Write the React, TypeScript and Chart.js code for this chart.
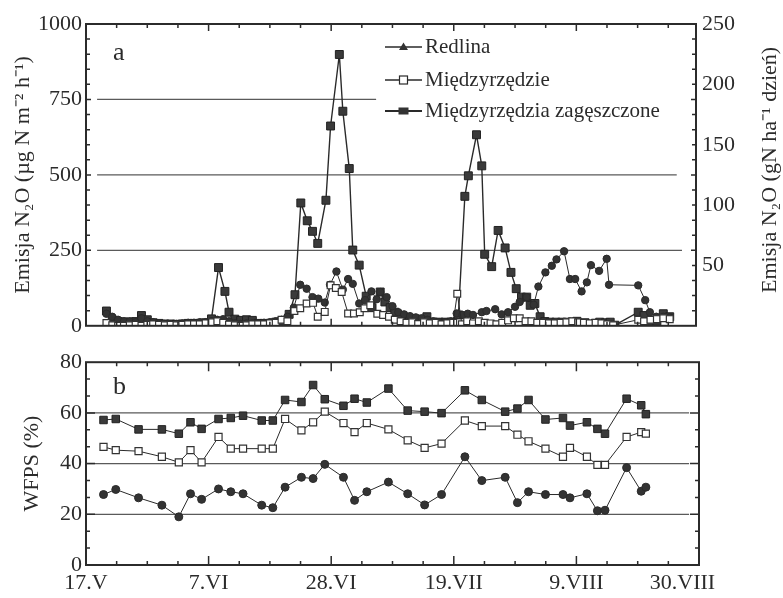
import { useEffect, useRef } from 'react';
import { Chart, registerables } from 'chart.js';

Chart.register(...registerables);

const FONT = "'Liberation Serif', 'Times New Roman', serif";
const INK = '#2b2b2b';
const GRID = '#5a5a5a';

// ---------- shared x axis (days after 17.V) ----------
const xTickDays = [0, 21, 42, 63, 84, 105];
const xTickLabels = ['17.V', '7.VI', '28.VI', '19.VII', '9.VIII', '30.VIII'];

// ---------- panel a : N2O emission ----------
const seriesNames = ['Redlina', 'Międzyrzędzie', 'Międzyrzędzia zagęszczone'];

const redDaysA = [3.5, 4.5, 5.5, 6.5, 7.5, 8.5, 9.5, 10.5, 11.5, 12.5, 13.5, 14.5, 15.5, 16.5, 17.5, 18.5, 19.5, 20.5, 21.5, 22.5, 23.5, 24.5, 25.5, 26.5, 27.5, 28.5, 29.5, 30.5, 31.5, 32.5, 33.5, 34.5,
  35.6, 36.7, 37.8, 38.8, 39.8, 40.9, 41.8, 42.9, 44.0, 44.9, 45.7, 46.8, 47.8, 48.9, 49.8, 50.4, 51.5,
  52.5, 53.5, 54.5, 55.5, 56.5, 57.5, 58.5, 59.5, 60.5, 61.5, 62.5, 63.5,
  64.5, 65.4, 66.3, 67.8, 68.6, 70.1, 71.2, 72.3, 73.5, 74.3, 75.5, 76.7, 77.5, 78.7, 79.8, 80.6, 81.9, 82.9, 83.8, 84.9, 85.8, 86.5, 87.9, 89.2, 89.6,
  94.6, 95.8, 96.6, 97.7, 98.9, 100.0];
const redValsA = [40, 30, 20, 15, 15, 12, 25, 15, 12, 8, 6, 4, 6, 8, 10, 10, 12, 12, 15, 20, 22, 15, 8, 6, 8, 8, 8, 10, 12, 15, 20, 30,
  60, 136, 123, 95, 90, 77, 136, 180, 120, 155, 139, 74, 85, 114, 88, 112, 95,
  65, 45, 38, 32, 28, 25, 20, 15, 12, 12, 15, 41,
  36, 40, 36, 45, 49, 55, 38, 45, 63, 79, 95, 70, 130, 177, 199, 220, 247, 155, 155, 114, 144, 201, 182, 222, 136,
  134, 85, 45, 30, 30, 28];

const midDaysA = [3.5, 4.5, 5.5, 6.5, 7.5, 8.5, 9.5, 10.5, 11.5, 12.5, 13.5, 14.5, 15.5, 16.5, 17.5, 18.5, 19.5, 20.5, 21.5, 22.5, 23.5, 24.5, 25.5, 26.5, 27.5, 28.5, 29.5, 30.5, 31.5, 32.5, 33.5, 34.5,
  35.7, 36.7, 37.8, 38.9, 39.7, 40.9, 41.9, 42.8, 43.8, 44.9, 45.9, 46.9, 47.7, 48.7, 49.9, 50.9, 51.9, 52.9, 53.9, 54.9,
  55.9, 56.9, 57.9, 58.9, 59.9, 60.9, 61.9, 62.9, 63.6, 64.4, 65.3, 66.3, 67.3, 68.3, 69.3, 70.3, 71.3, 72.3, 73.3, 74.3,
  75.3, 76.3, 77.3, 78.3, 79.3, 80.3, 81.3, 82.3, 83.3, 84.3, 85.3, 86.3, 87.3, 88.3, 89.3, 90.3,
  94.6, 95.6, 96.7, 97.8, 98.9, 100.0];
const midValsA = [9, 2, 0, 0, 2, 3, 0, 3, 5, 3, 2, 3, 2, 3, 5, 5, 5, 8, 12, 15, 10, 4, 2, 0, 2, 5, 5, 5, 8, 10, 20, 15,
  49, 58, 74, 76, 30, 46, 134, 125, 112, 41, 41, 45, 58, 68, 40, 36, 30, 20, 15, 10,
  12, 6, 12, 8, 10, 5, 8, 10, 106, 5, 15, 8, 15, 10, 8, 5, 10, 18, 25, 25,
  15, 15, 10, 10, 8, 8, 10, 12, 15, 12, 10, 8, 10, 8, 5, 2,
  20, 15, 20, 22, 25, 22];

const denseDaysA = [3.5, 4.5, 5.5, 6.5, 7.5, 8.5, 9.5, 10.5, 11.5, 12.5, 13.5, 14.5, 15.5, 16.5, 17.5, 18.5, 19.5, 20.5, 21.5,
  22.7, 23.8, 24.5, 25.5, 26.5, 27.5, 28.5, 29.5, 30.5, 31.5, 32.5, 33.5,
  34.8, 35.8, 36.8, 37.9, 38.8, 39.7, 41.1, 41.9, 43.4, 44.0, 45.1, 45.7, 46.8, 48.0, 49.0,
  50.4, 51.2, 52.1, 52.9, 54.1, 55.4, 56.5, 57.5, 58.4, 59.5, 60.5, 61.5, 62.5, 63.8,
  64.9, 65.5, 66.9, 67.8, 68.3, 69.5, 70.6, 71.8, 72.8, 73.7, 74.6, 75.5, 76.1, 76.9, 77.8,
  78.6, 79.5, 80.5, 81.5, 82.4, 83.3, 84.1, 85.5, 86.3, 87.2, 88.0, 89.0, 89.8, 90.6,
  94.6, 95.6, 96.7, 97.8, 98.9, 100.0];
const denseValsA = [49, 20, 14, 13, 12, 14, 34, 20, 10, 8, 6, 6, 5, 6, 8, 8, 8, 10, 23,
  193, 114, 45, 22, 18, 20, 18, 8, 8, 8, 12, 15,
  38, 103, 407, 348, 313, 273, 416, 662, 899, 711, 521, 251, 201, 98, 60,
  112, 79, 60, 45, 34, 24, 22, 20, 30, 12, 12, 12, 12, 36,
  429, 497, 633, 530, 237, 196, 316, 258, 177, 123, 95, 95, 68, 74, 30,
  14, 12, 12, 12, 12, 12, 15, 10, 5, 8, 12, 10, 12, 2,
  45, 34, 15, 15, 40, 30];

const gridValsA = [250, 500, 750];
const gridFromA = [1.9, 1.9, 1.9];
const gridToA = [102.1, 101.2, 49.7];

// ---------- panel b : WFPS ----------
const daysB = [3.0, 5.1, 9.0, 13.0, 15.9, 17.9, 19.8, 22.7, 24.8, 26.9, 30.1, 32.0, 34.1, 36.9, 38.9, 40.9, 44.1, 46.0, 48.1, 51.8,
  55.1, 58.0, 60.9, 64.9, 67.8, 71.8, 73.9, 75.8, 78.7, 81.7, 82.9, 85.8, 87.6, 88.9, 92.6, 95.1, 95.9];
const denseB = [57.2, 57.6, 53.5, 53.5, 51.8, 56.3, 53.7, 57.6, 58.0, 58.9, 57.0, 57.0, 65.1, 64.3, 71.0, 65.4, 62.8, 65.6, 64.1, 69.6,
  60.9, 60.5, 59.9, 68.9, 65.1, 60.5, 61.7, 65.1, 57.4, 58.0, 55.0, 56.3, 53.7, 51.8, 65.6, 63.0, 59.5];
const midB = [46.6, 45.3, 44.9, 42.7, 40.5, 45.3, 40.5, 50.5, 45.9, 45.9, 45.9, 45.9, 57.6, 53.1, 56.3, 60.5, 56.0, 52.4, 56.0, 53.5,
  49.2, 46.2, 47.9, 57.0, 54.8, 54.8, 51.4, 48.8, 45.9, 42.7, 46.2, 42.7, 39.5, 39.5, 50.5, 52.4, 51.8];
const redB = [27.8, 29.8, 26.5, 23.6, 19.0, 28.1, 25.9, 30.0, 28.9, 28.1, 23.6, 22.6, 30.7, 34.6, 34.1, 39.7, 34.6, 25.5, 28.9, 32.7,
  28.1, 23.7, 27.8, 42.7, 33.3, 34.6, 24.6, 28.9, 27.8, 27.8, 26.5, 28.1, 21.4, 21.6, 38.4, 29.1, 30.7];

const gridValsB = [20, 40, 60];
const gridFromB = [0, 0, 0];
const gridToB = [103.3, 103.3, 103.3];

const zip = (xs: number[], ys: number[]) => xs.map((x, i) => ({ x, y: ys[i] }));

function gridDatasets(vals: number[], from: number[], to: number[]) {
  return vals.map((v, i) => ({
    label: 'grid' + v,
    data: [{ x: from[i], y: v }, { x: to[i], y: v }],
    borderColor: GRID,
    borderWidth: 1.3,
    pointRadius: 0,
    order: 10,
  }));
}

function seriesStyles(big: boolean) {
  return [
    { pointStyle: 'circle', pointRadius: big ? 3.7 : 4, backgroundColor: '#333', borderColor: '#2a2a2a', pointBorderWidth: 1, borderWidth: 1, order: 2 },
    { pointStyle: 'rect', pointRadius: big ? 4.8 : 5, backgroundColor: '#ffffff', borderColor: '#333', pointBorderWidth: 1.2, borderWidth: 1, order: 1 },
    { pointStyle: 'rect', pointRadius: big ? 5.6 : 5.3, backgroundColor: '#3a3a3a', borderColor: '#222', pointBorderWidth: 1, borderWidth: big ? 1.4 : 1, order: 3 },
  ];
}

function frameTicks(cfg: { xStep: number; xMajor: number; yStep: number; yMajor: number; major: number; minor: number; yMajorLen: number; yMinorLen: number }) {
  return {
    id: 'frameTicks',
    afterDatasetsDraw(chart: any) {
      const { ctx, chartArea } = chart;
      const { left, right, top, bottom } = chartArea;
      const xs = chart.scales.x;
      const ys = chart.scales.y;
      ctx.save();
      ctx.strokeStyle = INK;
      ctx.lineWidth = 1.5;
      ctx.beginPath();
      for (let i = 0; i * cfg.xStep <= xs.max + 1e-6; i++) {
        const v = i * cfg.xStep;
        const px = xs.getPixelForValue(v);
        if (px <= left + 1 || px >= right - 1) continue;
        const isMaj = Math.abs(v / cfg.xMajor - Math.round(v / cfg.xMajor)) < 1e-6;
        const len = isMaj ? cfg.major : cfg.minor;
        ctx.moveTo(px, bottom);
        ctx.lineTo(px, bottom - len);
        ctx.moveTo(px, top);
        ctx.lineTo(px, top + len);
      }
      for (let i = 0; i * cfg.yStep <= ys.max + 1e-6; i++) {
        const v = i * cfg.yStep;
        const py = ys.getPixelForValue(v);
        if (py >= bottom - 1 || py <= top + 1) continue;
        const isMaj = Math.abs(v / cfg.yMajor - Math.round(v / cfg.yMajor)) < 1e-6;
        const len = isMaj ? cfg.yMajorLen : cfg.yMinorLen;
        ctx.moveTo(left, py);
        ctx.lineTo(left + len, py);
        ctx.moveTo(right, py);
        ctx.lineTo(right - len, py);
      }
      ctx.stroke();
      ctx.lineWidth = 2;
      ctx.strokeRect(left, top, right - left, bottom - top);
      ctx.restore();
    },
  };
}

function panelLetter(letter: string, x: number, y: number) {
  return {
    id: 'panelLetter',
    afterDraw(chart: any) {
      const ctx = chart.ctx;
      ctx.save();
      ctx.fillStyle = INK;
      ctx.font = `26px ${FONT}`;
      ctx.textAlign = 'left';
      ctx.textBaseline = 'middle';
      ctx.fillText(letter, x, y);
      ctx.restore();
    },
  };
}

const rightTitlePlugin = {
  id: 'rightTitle',
  afterDraw(chart: any) {
    const { ctx, chartArea } = chart;
    ctx.save();
    ctx.fillStyle = INK;
    ctx.font = `22px ${FONT}`;
    ctx.translate(770, (chartArea.top + chartArea.bottom) / 2 - 5);
    ctx.rotate(-Math.PI / 2);
    ctx.textAlign = 'center';
    ctx.textBaseline = 'middle';
    ctx.fillText('Emisja N₂O (gN ha⁻¹ dzień)', 0, 0);
    ctx.restore();
  },
};

const legendPlugin = {
  id: 'customLegend',
  afterDraw(chart: any) {
    const ctx = chart.ctx;
    const rows = [47, 80, 111];
    const x0 = 385;
    const x1 = 422;
    const cx = (x0 + x1) / 2;
    ctx.save();
    rows.forEach((ry, i) => {
      ctx.strokeStyle = '#2a2a2a';
      ctx.lineWidth = i === 2 ? 2.2 : 1.6;
      ctx.beginPath();
      ctx.moveTo(x0, ry);
      ctx.lineTo(x1, ry);
      ctx.stroke();
      ctx.lineWidth = 1.2;
      if (i === 0) {
        ctx.fillStyle = '#333';
        ctx.beginPath();
        ctx.moveTo(cx, ry - 4.5);
        ctx.lineTo(cx + 4.5, ry + 3);
        ctx.lineTo(cx - 4.5, ry + 3);
        ctx.closePath();
        ctx.fill();
      } else if (i === 1) {
        ctx.fillStyle = '#fff';
        ctx.fillRect(cx - 4, ry - 4, 8, 8);
        ctx.strokeRect(cx - 4, ry - 4, 8, 8);
      } else {
        ctx.fillStyle = '#333';
        ctx.fillRect(cx - 5, ry - 3.5, 10, 7);
      }
      ctx.fillStyle = INK;
      ctx.font = `21px ${FONT}`;
      ctx.textAlign = 'left';
      ctx.textBaseline = 'middle';
      ctx.fillText(seriesNames[i], x1 + 3, ry);
    });
    ctx.restore();
  },
};

function TopChart() {
  const ref = useRef<HTMLCanvasElement>(null);
  useEffect(() => {
    const st = seriesStyles(true);
    const series = [zip(redDaysA, redValsA), zip(midDaysA, midValsA), zip(denseDaysA, denseValsA)];
    const chart = new Chart(ref.current as HTMLCanvasElement, {
      type: 'line',
      data: {
        datasets: [
          ...series.map((d, i) => ({ label: seriesNames[i], data: d, ...st[i], pointBackgroundColor: st[i].backgroundColor, pointBorderColor: st[i].borderColor, borderColor: '#2a2a2a' })),
          ...gridDatasets(gridValsA, gridFromA, gridToA),
        ] as any,
      },
      options: {
        animation: false,
        responsive: false,
        layout: { padding: { top: 24, bottom: 14, left: 0, right: 0 }, autoPadding: false } as any,
        plugins: { legend: { display: false }, tooltip: { enabled: false } },
        scales: {
          x: { type: 'linear', min: 0, max: 104.5, display: false },
          y: {
            type: 'linear', position: 'left', min: 0, max: 1000,
            ticks: { stepSize: 250, color: INK, padding: 4, font: { size: 22, family: FONT }, callback: (v: any) => String(v) },
            grid: { display: false, drawTicks: false },
            border: { display: false },
            title: { display: true, text: 'Emisja N₂O (µg N m⁻² h⁻¹)', color: INK, font: { size: 22, family: FONT }, padding: { top: 10, bottom: 0 } },
            afterFit: (s: any) => { s.width = 86; },
          },
          y2: {
            type: 'linear', position: 'right', min: 0, max: 250,
            ticks: { stepSize: 50, color: INK, padding: 6, font: { size: 22, family: FONT }, callback: (v: any) => (v === 0 ? '' : String(v)) },
            grid: { display: false, drawTicks: false },
            border: { display: false },
            afterFit: (s: any) => { s.width = 87; },
          },
        },
      } as any,
      plugins: [
        frameTicks({ xStep: 5.25, xMajor: 21, yStep: 50, yMajor: 250, major: 7, minor: 4, yMajorLen: 5, yMinorLen: 4 }),
        panelLetter('a', 113, 53),
        rightTitlePlugin,
        legendPlugin,
      ],
    });
    return () => chart.destroy();
  }, []);
  return <canvas ref={ref} width={783} height={345} style={{ position: 'absolute', left: 0, top: 0, display: 'block' }} />;
}

function BottomChart() {
  const ref = useRef<HTMLCanvasElement>(null);
  useEffect(() => {
    const st = seriesStyles(false);
    const series = [zip(daysB, redB), zip(daysB, midB), zip(daysB, denseB)];
    const chart = new Chart(ref.current as HTMLCanvasElement, {
      type: 'line',
      data: {
        datasets: [
          ...series.map((d, i) => ({ label: seriesNames[i], data: d, ...st[i], pointBackgroundColor: st[i].backgroundColor, pointBorderColor: st[i].borderColor, borderColor: '#2a2a2a' })),
          ...gridDatasets(gridValsB, gridFromB, gridToB),
        ] as any,
      },
      options: {
        animation: false,
        responsive: false,
        layout: { padding: { top: 15, bottom: 0, left: 0, right: 84 }, autoPadding: false } as any,
        plugins: { legend: { display: false }, tooltip: { enabled: false } },
        scales: {
          x: {
            type: 'linear', min: 0, max: 105,
            ticks: {
              stepSize: 21, autoSkip: false, maxRotation: 0, color: INK, padding: 5, font: { size: 22, family: FONT },
              callback: (v: any) => {
                const i = xTickDays.indexOf(Math.round(v));
                if (i < 0) return '';
                return i === xTickDays.length - 1 ? xTickLabels[i] + '      ' : xTickLabels[i];
              },
            },
            grid: { display: false, drawTicks: false },
            border: { display: false },
            afterFit: (s: any) => { s.height = 33; },
          },
          y: {
            type: 'linear', position: 'left', min: 0, max: 80,
            ticks: { stepSize: 20, color: INK, padding: 4, font: { size: 22, family: FONT }, callback: (v: any) => String(v) },
            grid: { display: false, drawTicks: false },
            border: { display: false },
            title: { display: true, text: 'WFPS (%)', color: INK, font: { size: 22, family: FONT }, padding: { top: 19, bottom: 0 } },
            afterFit: (s: any) => { s.width = 86; },
          },
        },
      } as any,
      plugins: [
        frameTicks({ xStep: 5.25, xMajor: 21, yStep: 20 / 3, yMajor: 20, major: 9, minor: 4, yMajorLen: 9, yMinorLen: 4 }),
        panelLetter('b', 113, 42),
      ],
    });
    return () => chart.destroy();
  }, []);
  return <canvas ref={ref} width={783} height={253} style={{ position: 'absolute', left: 0, top: 345, display: 'block' }} />;
}

export default function App() {
  return (
    <div style={{ position: 'absolute', left: 0, top: 0, width: 783, height: 598, background: '#fff' }}>
      <TopChart />
      <BottomChart />
    </div>
  );
}
